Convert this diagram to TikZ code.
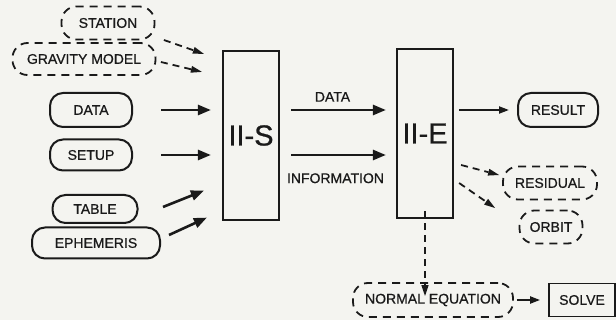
\documentclass[tikz,border=0pt]{standalone}
\usepackage{fontspec}
\setmainfont{Liberation Sans}
\newfontfamily\lblfont{Liberation Sans}[BoldFont=Liberation Sans, BoldFeatures={FakeBold=0.7}]
\usetikzlibrary{arrows.meta,calc}
\definecolor{bg}{HTML}{F4F4F0}
\definecolor{ink}{HTML}{1A1A1A}
\tikzset{
  lbl/.style={font=\lblfont\bfseries\fontsize{14}{16}\selectfont, text=ink, inner sep=0pt},
  solidpill/.style={lbl, draw=ink, line width=2pt, rounded corners=13pt},
  dashpill/.style={lbl, draw=ink, line width=1.8pt, rounded corners=15pt, dash pattern=on 8pt off 6pt},
  bigbox/.style={draw=ink, line width=2.2pt, minimum width=56pt, minimum height=169pt, font=\lblfont\bfseries\fontsize{29}{31}\selectfont, text=ink},
  plainbox/.style={lbl, draw=ink, line width=1.8pt},
  thickarrow/.style={draw=ink, line width=2.6pt, -{Triangle[length=13pt,width=10pt]}},
  thinarrow/.style={draw=ink, line width=2pt, -{Triangle[length=10pt,width=7pt]}},
  dasharrow/.style={draw=ink, line width=1.8pt, dash pattern=on 7pt off 5pt, -{Triangle[length=11pt,width=7pt,line width=0pt]}},
  arrowlbl/.style={font=\lblfont\bfseries\fontsize{14}{16}\selectfont, text=ink, inner sep=0pt}
}
\begin{document}
\begin{tikzpicture}[x=1pt,y=-1pt]
\fill[bg] (0,0) rectangle (616,320);
\useasboundingbox (0,0) rectangle (616,320);

\node[dashpill, minimum width=93pt, minimum height=33pt] (station) at (108,23) {STATION};
\node[dashpill, minimum width=143pt, minimum height=32pt] (gravity) at (84,59) {GRAVITY MODEL};
\node[solidpill, minimum width=82pt, minimum height=34pt] (data) at (91,110) {DATA};
\node[solidpill, minimum width=82pt, minimum height=31pt] (setup) at (91,155) {SETUP};
\node[solidpill, minimum width=85pt, minimum height=28pt] (table) at (95,209) {TABLE};
\node[solidpill, minimum width=128pt, minimum height=31pt] (ephem) at (96,243) {EPHEMERIS};

\node[bigbox] (iis) at (251,135.5) {II-S};
\node[bigbox] (iie) at (425,133.5) {II-E};

\node[solidpill, minimum width=80pt, minimum height=34pt] (result) at (558,110) {RESULT};
\node[dashpill, minimum width=94pt, minimum height=33pt] (residual) at (550,183) {RESIDUAL};
\node[dashpill, minimum width=63pt, minimum height=33pt] (orbit) at (551,227) {ORBIT};
\node[dashpill, minimum width=160pt, minimum height=34pt] (normal) at (433,300) {NORMAL EQUATION};
\node[plainbox, minimum width=66pt, minimum height=33pt] (solve) at (582,300) {SOLVE};

% inputs to II-S
\draw[dasharrow] ([shift={(8.5,17)}]station.east) -- ([shift={(-18,4)}]iis.north west);
\draw[dasharrow] ([shift={(4.5,3)}]gravity.east) -- ([shift={(-20,22)}]iis.north west);
\draw[thickarrow] ([xshift=28]data.east) -- ([xshift=-11]data.east -| iis.west);
\draw[thickarrow] ([xshift=28]setup.east) -- ([xshift=-11]setup.east -| iis.west);
\draw[thickarrow] ([shift={(24.5,-2)}]table.east) -- ([shift={(-18,-30.5)}]iis.south west);
\draw[thickarrow] ([shift={(8,-8)}]ephem.east) -- ([shift={(-15,-3.5)}]iis.south west);

% II-S to II-E
\draw[thickarrow] ([xshift=11]iis.east |- data.east) -- node[arrowlbl, above=7pt, xshift=-6pt] (lbldata) {DATA} ([xshift=-10]iie.west |- data.east);
\draw[thickarrow] ([xshift=11]iis.east |- setup.east) -- node[arrowlbl, below=17pt, xshift=-3pt] (lblinfo) {INFORMATION} ([xshift=-10]iie.west |- setup.east);

% outputs of II-E
\draw[thinarrow] ([xshift=5]iie.east |- result.west) -- ([xshift=-8]result.west);
\draw[dasharrow] ([shift={(7,31.5)}]iie.east) -- ([shift={(-3,-8)}]residual.west);
\draw[dasharrow] ([shift={(5,49.5)}]iie.east) -- ([shift={(-23.5,-19)}]orbit.west);
\draw[draw=ink, line width=1.4pt, dash pattern=on 7pt off 5pt, -{Triangle[length=11pt,width=7pt]}] ([yshift=8]iie.south) -- ([yshift=-14]iie.south |- normal.north);
\draw[thinarrow] ([xshift=3]normal.east) -- ([xshift=-8]solve.west);
\end{tikzpicture}
\end{document}
